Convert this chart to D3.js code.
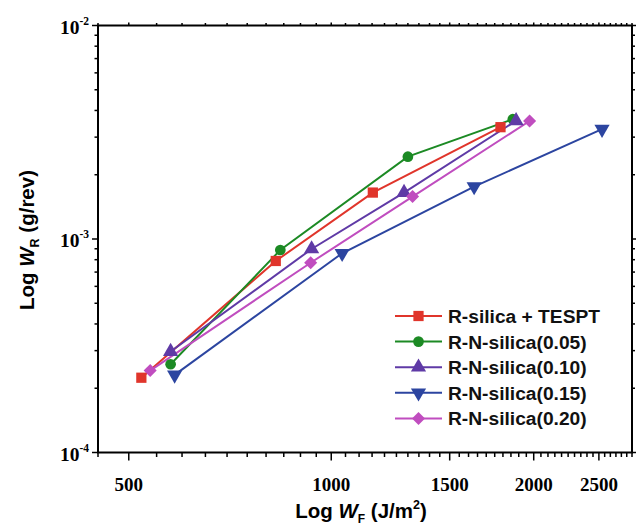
<!DOCTYPE html>
<html>
<head>
<meta charset="utf-8">
<script src="https://cdn.jsdelivr.net/npm/d3@7"></script>
<style>
  body { margin: 0; background: #fff; }
  svg { display: block; }
</style>
</head>
<body>
<svg id="canvas"></svg>
<script>
// data
const seriesNames = ["R-silica + TESPT", "R-N-silica(0.05)", "R-N-silica(0.10)", "R-N-silica(0.15)", "R-N-silica(0.20)"];
const tespt = [[522, 2.24e-4], [827, 7.89e-4], [1153, 1.65e-3], [1785, 3.34e-3]];
const ns005 = [[577, 2.59e-4], [840, 8.88e-4], [1300, 2.43e-3], [1862, 3.64e-3]];
const ns010 = [[577, 2.97e-4], [935, 8.98e-4], [1283, 1.65e-3], [1883, 3.58e-3]];
const ns015 = [[585, 2.31e-4], [1038, 8.57e-4], [1631, 1.76e-3], [2527, 3.27e-3]];
const ns020 = [[538, 2.42e-4], [932, 7.74e-4], [1321, 1.58e-3], [1972, 3.57e-3]];
const xMajorTicks = [500, 1000, 1500, 2000, 2500];
const yMajorTicks = [1e-4, 1e-3, 1e-2];
const yTickExp = ["-4", "-3", "-2"];

const allSeries = [tespt, ns005, ns010, ns015, ns020];

const width = 636, height = 526;
const svg = d3.select("#canvas").attr("width", width).attr("height", height);

// plot box
const pLeft = 98, pRight = 632, pTop = 25.5, pBottom = 452.5;

const x = d3.scaleLog().domain([450, 2800]).range([pLeft, pRight]);
const y = d3.scaleLog().domain([1e-4, 1e-2]).range([pBottom, pTop]);

const colors = ["#e0352b", "#1c8a24", "#5f3aa6", "#2c45a0", "#c04dbf"];
// marker shapes: square, circle, up triangle, down triangle, diamond
const shapes = [
    {type: d3.symbolSquare, size: 105, rot: 0},
    {type: d3.symbolCircle, size: 90, rot: 0},
    {type: d3.symbolTriangle, size: 100, rot: 0},
    {type: d3.symbolTriangle, size: 100, rot: 180},
    {type: d3.symbolSquare, size: 85, rot: 45}
];

// minor ticks
const xMinor = d3.range(450, 2801, 50).filter(v => !xMajorTicks.includes(v));
const yMinor = [];
[1e-4, 1e-3].forEach(d => { for (let k = 2; k <= 9; k++) yMinor.push(k * d); });

const axes = svg.append("g").attr("stroke", "#000").attr("stroke-width", 1.5);

// bottom + top ticks
xMinor.forEach(v => {
    axes.append("line").attr("x1", x(v)).attr("x2", x(v)).attr("y1", pBottom).attr("y2", pBottom + 4.5);
    axes.append("line").attr("x1", x(v)).attr("x2", x(v)).attr("y1", pTop).attr("y2", pTop - 2.5);
});
xMajorTicks.forEach(v => {
    axes.append("line").attr("x1", x(v)).attr("x2", x(v)).attr("y1", pBottom).attr("y2", pBottom + 8);
    axes.append("line").attr("x1", x(v)).attr("x2", x(v)).attr("y1", pTop).attr("y2", pTop - 3);
});

// left + right ticks
yMinor.forEach(v => {
    axes.append("line").attr("x1", pLeft).attr("x2", pLeft - 3.5).attr("y1", y(v)).attr("y2", y(v));
    axes.append("line").attr("x1", pRight).attr("x2", pRight + 3).attr("y1", y(v)).attr("y2", y(v));
});
yMajorTicks.forEach(v => {
    axes.append("line").attr("x1", pLeft).attr("x2", pLeft - 6).attr("y1", y(v)).attr("y2", y(v));
    axes.append("line").attr("x1", pRight).attr("x2", pRight + 4).attr("y1", y(v)).attr("y2", y(v));
});

// frame
svg.append("rect")
    .attr("x", pLeft).attr("y", pTop)
    .attr("width", pRight - pLeft).attr("height", pBottom - pTop)
    .attr("fill", "none").attr("stroke", "#000").attr("stroke-width", 2);

// tick labels
svg.selectAll(".xlab")
    .data(xMajorTicks)
    .join("text")
    .attr("class", "xlab")
    .attr("x", d => x(d))
    .attr("y", 491)
    .attr("text-anchor", "middle")
    .attr("font-family", "Liberation Serif")
    .attr("font-weight", "bold")
    .attr("font-size", 19)
    .text(d => d);

yMajorTicks.forEach((v, i) => {
    const t = svg.append("text")
        .attr("x", 89)
        .attr("y", y(v) + 8)
        .attr("text-anchor", "end")
        .attr("font-family", "Liberation Serif")
        .attr("font-weight", "bold")
        .attr("font-size", 19.5);
    t.append("tspan").text("10");
    t.append("tspan").attr("font-size", 11.5).attr("dy", -9).text(yTickExp[i]);
});

// axis titles
const xt = svg.append("text")
    .attr("x", 361).attr("y", 518)
    .attr("text-anchor", "middle")
    .attr("font-family", "Liberation Sans")
    .attr("font-weight", "bold")
    .attr("font-size", 20.5);
xt.append("tspan").text("Log ");
xt.append("tspan").attr("font-style", "italic").text("W");
xt.append("tspan").attr("font-size", 12).attr("dy", 5).text("F");
xt.append("tspan").attr("dy", -5).text(" (J/m");
xt.append("tspan").attr("font-size", 12.5).attr("dy", -9).text("2");
xt.append("tspan").attr("dy", 9).text(")");

const yt = svg.append("text")
    .attr("transform", "translate(34,240) rotate(-90)")
    .attr("text-anchor", "middle")
    .attr("font-family", "Liberation Sans")
    .attr("font-weight", "bold")
    .attr("font-size", 20.5);
yt.append("tspan").text("Log ");
yt.append("tspan").attr("font-style", "italic").text("W");
yt.append("tspan").attr("font-size", 12.5).attr("dy", 5).text("R");
yt.append("tspan").attr("dy", -5).text(" (g/rev)");

// lines
const line = d3.line().x(d => x(d[0])).y(d => y(d[1]));
svg.append("g")
    .selectAll("path")
    .data(allSeries)
    .join("path")
    .attr("d", line)
    .attr("fill", "none")
    .attr("stroke", (d, i) => colors[i])
    .attr("stroke-width", 2);

// markers
allSeries.forEach((s, i) => {
    const sym = d3.symbol().type(shapes[i].type).size(shapes[i].size);
    svg.append("g")
        .selectAll("path")
        .data(s)
        .join("path")
        .attr("d", sym)
        .attr("transform", d => `translate(${x(d[0])},${y(d[1])}) rotate(${shapes[i].rot})`)
        .attr("fill", colors[i]);
});

// legend
const legend = svg.selectAll(".legend")
    .data(seriesNames)
    .join("g")
    .attr("class", "legend")
    .attr("transform", (d, i) => `translate(395, ${316 + i * 25.6})`);

legend.append("line")
    .attr("x1", 0).attr("x2", 47)
    .attr("stroke", (d, i) => colors[i])
    .attr("stroke-width", 2);

legend.append("path")
    .attr("d", (d, i) => d3.symbol().type(shapes[i].type).size(shapes[i].size)())
    .attr("transform", (d, i) => `translate(23.5,0) rotate(${shapes[i].rot})`)
    .attr("fill", (d, i) => colors[i]);

legend.append("text")
    .attr("x", 53)
    .attr("y", 7)
    .attr("font-family", "Liberation Sans")
    .attr("font-weight", "bold")
    .attr("font-size", 19.2)
    .attr("fill", "#111")
    .text(d => d);
</script>
</body>
</html>
